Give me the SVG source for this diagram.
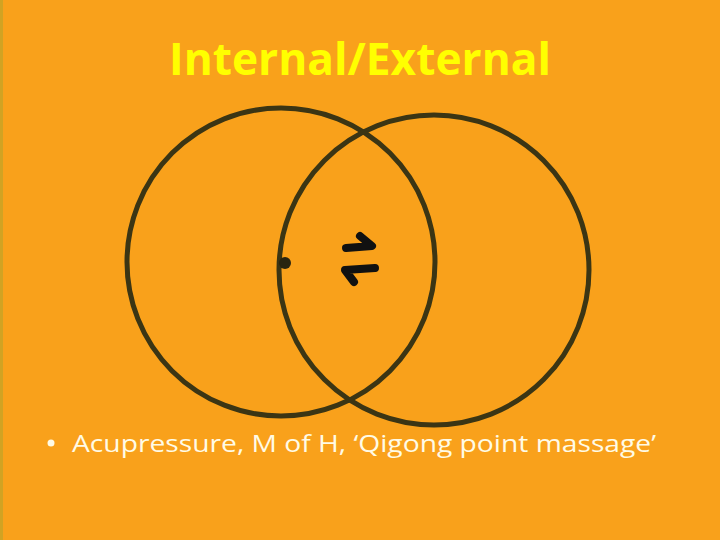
<svg xmlns="http://www.w3.org/2000/svg" width="720" height="540" viewBox="0 0 720 540">
<style>
.ring{fill:none;stroke:#3b3514;stroke-width:5}
.title{font-family:"Open Sans","Liberation Sans",sans-serif;font-weight:bold;font-size:44px;fill:#ffff00}
.body{font-family:"Open Sans","Liberation Sans",sans-serif;font-size:24px;fill:#fffbe6}
.harp{fill:none;stroke:#111;stroke-width:8;stroke-linecap:round;stroke-linejoin:round}
</style>
<rect width="720" height="540" fill="#f9a11b"/>
<rect x="0" y="0" width="3" height="540" fill="#b5a52a" opacity="0.6"/>
<text class="title" x="360" y="75" text-anchor="middle" textLength="382" lengthAdjust="spacingAndGlyphs">Internal/External</text>
<g id="circle-internal"><circle class="ring" cx="281" cy="262" r="154"/></g>
<g id="circle-external"><circle class="ring" cx="434" cy="270" r="155"/></g>
<g id="point"><circle cx="285" cy="263" r="6" fill="#2a2510"/></g>
<g id="connectors">
<path class="harp" d="M360,236 L372,246 L346,248"/>
<path class="harp" d="M375,268 L345,270 L354,282"/>
</g>
<g id="caption">
<circle cx="51" cy="443" r="3.5" fill="#fffbe6"/>
<text class="body" x="72" y="452" textLength="584" lengthAdjust="spacingAndGlyphs">Acupressure, M of H, ‘Qigong point massage’</text>
</g>
</svg>
